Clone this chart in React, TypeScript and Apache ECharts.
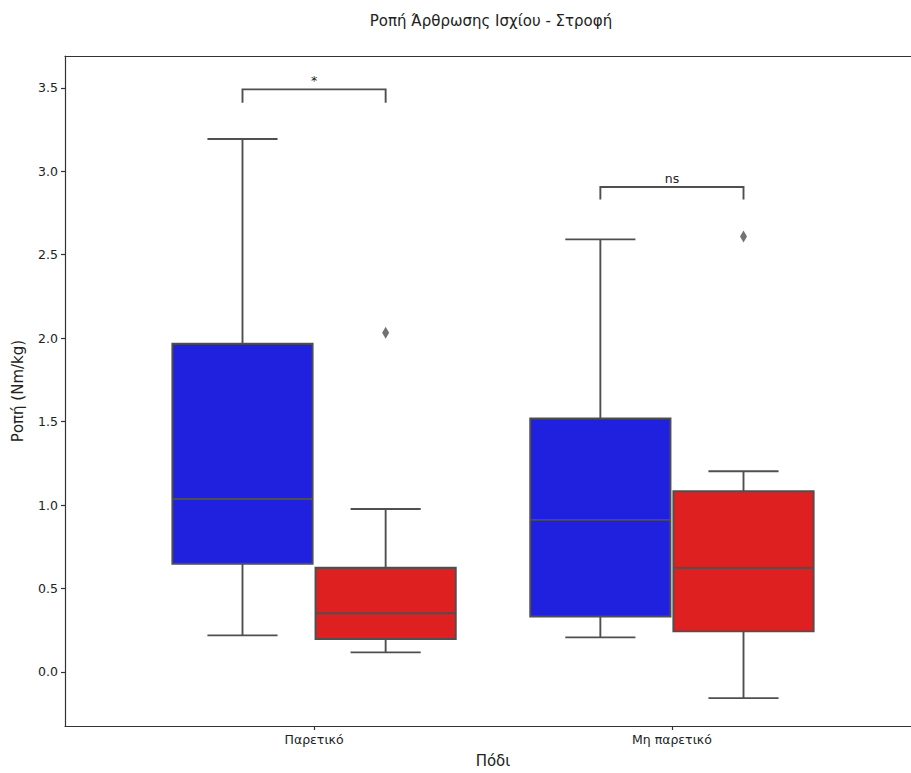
import React, { useEffect, useRef } from "react";
import * as echarts from "echarts";

// ---- data ----
const categories = ["Παρετικό", "Μη παρετικό"];
const hueOffsets = [-0.2, 0.2];
// [min whisker, Q1, median, Q3, max whisker]
const blueStats = [
  [0.219, 0.648, 1.036, 1.967, 3.194],
  [0.207, 0.332, 0.911, 1.519, 2.592],
];
const redStats = [
  [0.117, 0.197, 0.352, 0.624, 0.976],
  [-0.157, 0.243, 0.624, 1.083, 1.203],
];
// outliers of the red group: [category index, value]
const redOutliers = [
  [0, 2.032],
  [1, 2.61],
];
const annotationLabels = ["*", "ns"];
const annotationTops = [3.491, 2.906];
const annotationLegs = [3.411, 2.831];
const yTicks = [0, 0.5, 1.0, 1.5, 2.0, 2.5, 3.0, 3.5];

const BLUE = "#2020df";
const RED = "#df2020";
const GRAY = "#4f4f4f";
const FONT = "DejaVu Sans";

export default function App() {
  const ref = useRef<HTMLDivElement>(null);

  useEffect(() => {
    if (!ref.current) return;
    const chart = echarts.init(ref.current, null, { renderer: "svg" });

    const boxData = (stats: number[][], hue: number) =>
      stats.map((s, i) => [i + hueOffsets[hue], ...s]);

    const renderBox = (color: string) => (params: any, api: any) => {
      const x = api.value(0);
      const w = api.size([0.392, 0])[0];
      const pMin = api.coord([x, api.value(1)]);
      const pQ1 = api.coord([x, api.value(2)]);
      const pMed = api.coord([x, api.value(3)]);
      const pQ3 = api.coord([x, api.value(4)]);
      const pMax = api.coord([x, api.value(5)]);
      const cx = pMed[0];
      const lineStyle = { stroke: GRAY, lineWidth: 1.9 };
      return {
        type: "group",
        children: [
          { type: "line", shape: { x1: cx, y1: pQ1[1], x2: cx, y2: pMin[1] }, style: lineStyle },
          { type: "line", shape: { x1: cx, y1: pQ3[1], x2: cx, y2: pMax[1] }, style: lineStyle },
          { type: "line", shape: { x1: cx - w / 4, y1: pMin[1], x2: cx + w / 4, y2: pMin[1] }, style: lineStyle },
          { type: "line", shape: { x1: cx - w / 4, y1: pMax[1], x2: cx + w / 4, y2: pMax[1] }, style: lineStyle },
          {
            type: "rect",
            shape: { x: cx - w / 2, y: pQ3[1], width: w, height: pQ1[1] - pQ3[1] },
            style: { fill: color, stroke: GRAY, lineWidth: 1.9 },
          },
          { type: "line", shape: { x1: cx - w / 2, y1: pMed[1], x2: cx + w / 2, y2: pMed[1] }, style: lineStyle },
        ],
      };
    };

    const bracketData = annotationLabels.map((_, i) => [
      i + hueOffsets[0],
      i + hueOffsets[1],
      annotationTops[i],
      annotationLegs[i],
    ]);

    chart.setOption({
      animation: false,
      title: {
        text: "Ροπή Άρθρωσης Ισχίου - Στροφή",
        left: 491,
        top: 13,
        padding: 0,
        textAlign: "center",
        textStyle: { fontFamily: FONT, fontSize: 15, fontWeight: "normal", color: "#222" },
      },
      grid: { left: 65, right: 0, top: 56, bottom: 44 },
      xAxis: [
        {
          type: "value",
          min: -0.696,
          max: 1.696,
          name: "Πόδι",
          nameLocation: "middle",
          nameGap: 27,
          nameTextStyle: { fontFamily: FONT, fontSize: 15, color: "#222" },
          splitLine: { show: false },
          axisLine: { show: true, onZero: false, lineStyle: { color: "#333", width: 1.2 } },
          axisTick: { show: true, length: 4, customValues: [0, 1], lineStyle: { color: "#333", width: 1.2 } },
          axisLabel: {
            customValues: [0, 1],
            formatter: (v: number) => categories[Math.round(v)] ?? "",
            fontFamily: FONT,
            fontSize: 12.5,
            color: "#222",
            margin: 7,
          },
        },
        {
          type: "value",
          position: "top",
          min: -0.696,
          max: 1.696,
          splitLine: { show: false },
          axisLine: { show: true, onZero: false, lineStyle: { color: "#333", width: 1.2 } },
          axisTick: { show: false },
          axisLabel: { show: false },
        },
      ],
      yAxis: {
        type: "value",
        min: -0.324,
        max: 3.691,
        name: "Ροπή (Nm/kg)",
        nameLocation: "middle",
        nameGap: 40,
        nameTextStyle: { fontFamily: FONT, fontSize: 15, color: "#222" },
        splitLine: { show: false },
        axisLine: { show: true, onZero: false, lineStyle: { color: "#333", width: 1.2 } },
        axisTick: { show: true, length: 4, customValues: yTicks, lineStyle: { color: "#333", width: 1.2 } },
        axisLabel: {
          customValues: yTicks,
          formatter: (v: number) => v.toFixed(1),
          fontFamily: FONT,
          fontSize: 12.5,
          color: "#222",
          margin: 7,
        },
      },
      series: [
        {
          type: "custom",
          name: "blue",
          renderItem: renderBox(BLUE),
          encode: { x: 0, y: [1, 2, 3, 4, 5] },
          data: boxData(blueStats, 0),
          z: 2,
        },
        {
          type: "custom",
          name: "red",
          renderItem: renderBox(RED),
          encode: { x: 0, y: [1, 2, 3, 4, 5] },
          data: boxData(redStats, 1),
          z: 2,
        },
        {
          type: "scatter",
          name: "outliers",
          symbol: "diamond",
          symbolSize: [7, 12],
          itemStyle: { color: GRAY },
          data: redOutliers.map(([c, v]) => [c + hueOffsets[1], v]),
          z: 3,
        },
        {
          type: "custom",
          name: "annotations",
          encode: { x: [0, 1], y: [2, 3] },
          data: bracketData,
          renderItem: (params: any, api: any) => {
            const a = api.coord([api.value(0), api.value(2)]);
            const b = api.coord([api.value(1), api.value(2)]);
            const legA = api.coord([api.value(0), api.value(3)]);
            const legB = api.coord([api.value(1), api.value(3)]);
            return {
              type: "group",
              children: [
                {
                  type: "polyline",
                  shape: { points: [legA, a, b, legB] },
                  style: { stroke: GRAY, lineWidth: 1.9, fill: "none" },
                },
                {
                  type: "text",
                  x: (a[0] + b[0]) / 2,
                  y: a[1] - 2,
                  style: {
                    text: annotationLabels[params.dataIndex],
                    fontFamily: FONT,
                    fontSize: 12.5,
                    fill: "#222",
                    align: "center",
                    verticalAlign: "bottom",
                  },
                },
              ],
            };
          },
          z: 3,
        },
      ],
    });

    return () => chart.dispose();
  }, []);

  return (
    <div
      style={{
        position: "absolute",
        left: 0,
        top: 0,
        width: 911,
        height: 773,
        overflow: "hidden",
        background: "#fff",
      }}
    >
      <div ref={ref} style={{ width: 921, height: 773 }} />
    </div>
  );
}
